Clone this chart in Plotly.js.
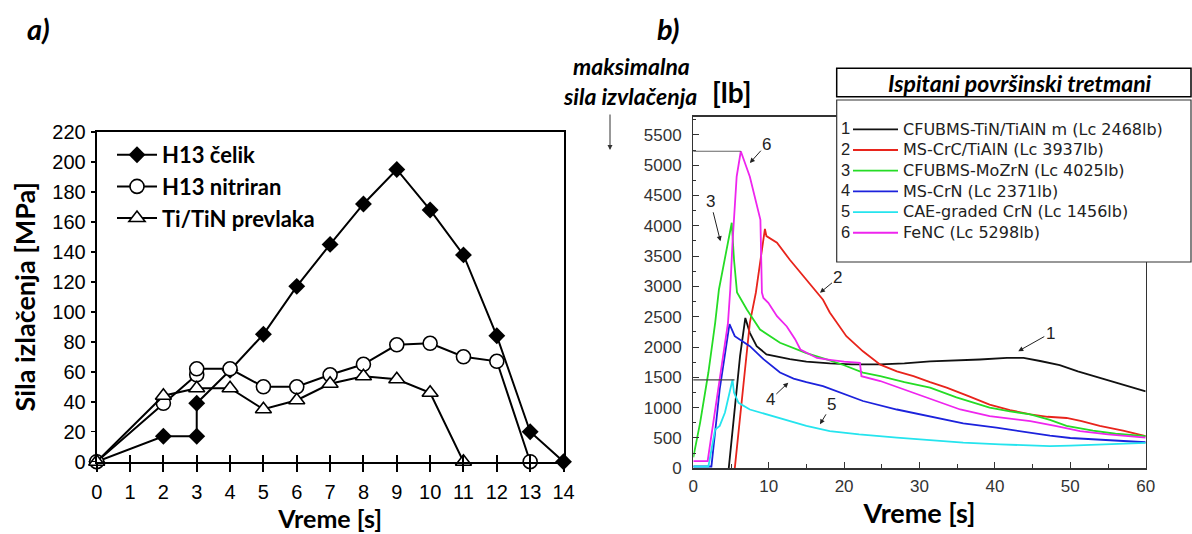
<!DOCTYPE html>
<html><head><meta charset="utf-8">
<script src="https://cdn.plot.ly/plotly-3.0.1.min.js"></script>
<style>html,body{margin:0;padding:0;background:#fff}#chart{width:1192px;height:534px}</style>
</head><body><div id="chart"></div>
<script>
// ---------- a) data ----------
const seriesA = ['H13 čelik', 'H13 nitriran', 'Ti/TiN prevlaka'];
const tCelik = [0, 2, 3, 3, 4, 5, 6, 7, 8, 9, 10, 11, 12, 13, 14];
const celik  = [0, 17, 17, 39, 61, 85, 117, 145, 172, 195, 168, 138, 84, 20, 0];
const tNitr  = [0, 2, 3, 3, 4, 5, 6, 7, 8, 9, 10, 11, 12, 13];
const nitr   = [0, 39, 58, 62, 62, 50, 50, 58, 65, 78, 79, 70, 67, 0];
const tTin   = [0, 2, 3, 4, 5, 6, 7, 8, 9, 10, 11];
const tin    = [0, 44, 49, 49, 35, 41, 52, 57, 55, 46, 0];

// ---------- b) data ----------
const seriesB = ['CFUBMS-TiN/TiAlN m (Lc 2468lb)', 'MS-CrC/TiAlN (Lc 3937lb)', 'CFUBMS-MoZrN (Lc 4025lb)',
                 'MS-CrN (Lc 2371lb)', 'CAE-graded CrN (Lc 1456lb)', 'FeNC (Lc 5298lb)'];
const seriesNo = ['1', '2', '3', '4', '5', '6'];
const t1 = [4.7, 5.3, 6.2, 6.9, 7.5, 8.4, 9.7, 12.8, 15, 18.1, 21, 24.8, 28, 31.4, 35, 38, 41.6, 43.8, 46, 48.6, 51, 53.9, 57, 60];
const v1 = [0, 750, 1850, 2480, 2235, 2015, 1880, 1800, 1760, 1730, 1715, 1715, 1730, 1765, 1780, 1795, 1820, 1820, 1770, 1700, 1600, 1495, 1390, 1270];
const t2 = [5.5, 6.6, 7.5, 8.3, 9.07, 9.5, 9.7, 11.1, 12.8, 15, 17.2, 18.1, 20.3, 22.5, 24.8, 27, 29.2, 31.4, 33.6, 36.5, 39.3, 42, 44.7, 47, 49.5, 51.5, 53.9, 57, 60];
const v2 = [0, 1300, 2400, 2900, 3600, 3950, 3830, 3720, 3440, 3110, 2780, 2570, 2180, 1930, 1710, 1600, 1520, 1420, 1330, 1190, 1050, 960, 890, 850, 830, 780, 700, 620, 530];
const t3 = [0, 0.9, 2.0, 2.9, 3.4, 4.4, 5.1, 5.4, 5.8, 7.1, 8.85, 11.5, 15, 18.1, 20, 22.5, 24.8, 28, 31.4, 34.9, 39.3, 42, 44.7, 47.3, 49.5, 53, 56, 60];
const v3 = [180, 750, 1580, 2400, 2950, 3600, 4050, 3440, 2900, 2620, 2290, 2070, 1900, 1780, 1700, 1580, 1520, 1420, 1330, 1170, 1000, 940, 890, 800, 700, 620, 570, 530];
const t4 = [0, 2.4, 3.5, 4.2, 4.8, 5.5, 6.2, 7.5, 9.3, 11.5, 13.3, 15, 17.2, 19.5, 22.5, 27, 31.4, 35.8, 40.2, 44.7, 47.3, 50, 53.9, 57, 60];
const v4 = [30, 30, 1300, 1850, 2380, 2180, 2125, 2015, 1800, 1580, 1480, 1420, 1356, 1250, 1110, 970, 860, 740, 670, 580, 540, 500, 470, 445, 430];
const t5 = [0, 2.0, 2.9, 3.5, 4.2, 4.6, 5.0, 5.2, 5.4, 6.0, 7.5, 10.6, 15, 18.1, 22, 27, 31, 35.8, 40.7, 44.7, 47.3, 50, 53.9, 57, 60];
const v5 = [30, 30, 640, 700, 920, 1140, 1360, 1460, 1250, 1080, 970, 860, 700, 615, 560, 505, 465, 425, 395, 370, 365, 375, 395, 410, 420];
const t6 = [0, 1.9, 3.3, 4.6, 4.9, 5.2, 5.75, 6.3, 7.5, 8.2, 8.6, 8.9, 9.1, 9.3, 9.95, 11.1, 12.4, 13.5, 14.2, 16.4, 18.1, 20, 22.1, 22.3, 24.8, 29.2, 35.4, 39.3, 44.7, 48, 51.3, 55, 60];
const v6 = [120, 120, 1300, 2400, 2950, 3720, 4810, 5230, 4810, 4430, 4240, 4100, 2900, 2810, 2730, 2510, 2340, 2130, 1960, 1820, 1790, 1760, 1740, 1520, 1440, 1250, 970, 860, 780, 700, 615, 560, 505];
const colorsB = ['#111111', '#e8241c', '#25dc25', '#1c22dc', '#25e4ee', '#ee25ee'];

const W = 1192, H = 534;
const px = x => x / W;
const py = y => 1 - y / H;
const LATO = 'Lato, "Open Sans", sans-serif';
const ARIAL = '"Liberation Sans", Arial, sans-serif';
const DEJAVU = '"DejaVu Sans", "Liberation Sans", sans-serif';

const traces = [];
// a) traces
traces.push({x: tCelik, y: celik, name: seriesA[0], mode: 'lines+markers', xaxis: 'x', yaxis: 'y', legend: 'legend',
  cliponaxis: false, line: {color: '#000', width: 2}, marker: {symbol: 'diamond', size: 13, color: '#000'}});
traces.push({x: tNitr, y: nitr, name: seriesA[1], mode: 'lines+markers', xaxis: 'x', yaxis: 'y', legend: 'legend',
  cliponaxis: false, line: {color: '#000', width: 2}, marker: {symbol: 'circle', size: 14, color: '#fff', line: {color: '#000', width: 1.6}}});
traces.push({x: tTin, y: tin, name: seriesA[2], mode: 'lines+markers', xaxis: 'x', yaxis: 'y', legend: 'legend',
  cliponaxis: false, line: {color: '#000', width: 2}, marker: {symbol: 'triangle-up', size: 14, color: '#fff', line: {color: '#000', width: 1.6}}});
traces.push({x: [], y: [], xaxis: 'x3', yaxis: 'y', showlegend: false, hoverinfo: 'skip'});

// b) traces
const tB = [t1, t2, t3, t4, t5, t6];
const vB = [v1, v2, v3, v4, v5, v6];
for (let i = 0; i < 6; i++) {
  traces.push({x: tB[i], y: vB[i], name: '<span style="font-size:16px">' + seriesB[i] + '</span>', mode: 'lines',
    xaxis: 'x2', yaxis: 'y2', legend: 'legend2', line: {color: colorsB[i], width: 1.8}});
}

// peaks for guide lines
const iMax6 = v6.indexOf(Math.max(...v6));
const iMax5 = v5.indexOf(Math.max(...v5));

function pTxt(text, x, y, font) {
  return {text: text, x: px(x), y: py(y), xref: 'paper', yref: 'paper', xanchor: 'center', yanchor: 'middle', showarrow: false, font: font};
}
const annotations = [
  pTxt('a)', 38, 28, {family: LATO, size: 29, weight: 'bold', style: 'italic', color: '#000'}),
  pTxt('b)', 668, 28, {family: LATO, size: 29, weight: 'bold', style: 'italic', color: '#000'}),
  pTxt('maksimalna', 631, 66, {family: LATO, size: 23, weight: 'bold', style: 'italic', color: '#000'}),
  pTxt('sila izvlačenja', 630, 96, {family: LATO, size: 23, weight: 'bold', style: 'italic', color: '#000'}),
  pTxt('[lb]', 731, 92, {family: LATO, size: 28, weight: 'bold', color: '#000'}),
  {text: '', x: px(610), y: py(150), xref: 'paper', yref: 'paper', showarrow: true, ax: 0, ay: -37, arrowhead: 2, arrowsize: 1, arrowwidth: 1, arrowcolor: '#333'},
  pTxt('Ispitani površinski tretmani', 1020, 82.5, {family: LATO, size: 23, weight: 'bold', style: 'italic', color: '#000'})
];
for (let i = 0; i < 6; i++) {
  annotations.push(pTxt(seriesNo[i], 845, 128.3 + i * 20.7, {family: ARIAL, size: 16.5, color: '#222'}));
}
const curveLabels = [
  {n: '6', x: 7.5, y: 5036, ax: 17, ay: -19},
  {n: '3', x: 3.6, y: 3745, ax: -10, ay: -40},
  {n: '2', x: 16.8, y: 2894, ax: 18, ay: -15},
  {n: '1', x: 43.1, y: 1932, ax: 32, ay: -18},
  {n: '4', x: 12.6, y: 1412, ax: -18, ay: 17},
  {n: '5', x: 16.8, y: 725, ax: 12, ay: -20}
];
curveLabels.forEach(c => annotations.push({text: c.n, x: c.x, y: c.y, xref: 'x2', yref: 'y2', ax: c.ax, ay: c.ay,
  showarrow: true, arrowhead: 2, arrowsize: 1, arrowwidth: 1, arrowcolor: '#222', standoff: 0,
  font: {family: ARIAL, size: 17, color: '#222'}}));

const shapes = [
  {type: 'rect', xref: 'paper', yref: 'paper', x0: px(836.7), x1: px(1191), y0: py(262), y1: py(100), fillcolor: '#fff', line: {color: '#333', width: 1.2}, layer: 'above'},
  {type: 'rect', xref: 'paper', yref: 'paper', x0: px(836.7), x1: px(1191), y0: py(96.7), y1: py(68.3), fillcolor: '#fff', line: {color: '#000', width: 1.5}, layer: 'above'},
  {type: 'line', xref: 'x2', yref: 'y2', xsizemode: 'pixel', xanchor: t6[iMax6], x0: -136, x1: 0, y0: v6[iMax6], y1: v6[iMax6], line: {color: '#666', width: 1.2}},
  {type: 'line', xref: 'x2', yref: 'y2', xsizemode: 'pixel', xanchor: t5[iMax5], x0: -90, x1: 2, y0: v5[iMax5], y1: v5[iMax5], line: {color: '#444', width: 1.2}}
];

const layout = {
  width: W, height: H, margin: {l: 0, r: 0, t: 0, b: 0}, paper_bgcolor: '#fff', plot_bgcolor: 'rgba(0,0,0,0)',
  showlegend: true,
  xaxis: {domain: [px(96.7), px(563.5)], anchor: 'y', range: [0, 14], tick0: 0, dtick: 1, ticks: 'outside', ticklen: 8, tickwidth: 2, tickcolor: '#000',
    showline: true, linecolor: '#000', linewidth: 2, mirror: true, showgrid: false, zeroline: false, automargin: false, ticklabelstandoff: 3,
    tickfont: {family: ARIAL, size: 20, color: '#000'},
    title: {text: 'Vreme [s]', standoff: 9, font: {family: LATO, size: 25, weight: 'bold', color: '#000'}}},
  xaxis3: {overlaying: 'x', anchor: 'y', range: [0, 14], tick0: 0, dtick: 1, ticks: 'inside', ticklen: 7, tickwidth: 2, tickcolor: '#000',
    showticklabels: false, showline: false, showgrid: false, zeroline: false},
  yaxis: {domain: [py(461.7), py(132)], anchor: 'x', range: [0, 220], tick0: 0, dtick: 20, ticks: 'outside', ticklen: 4, tickwidth: 1.5, tickcolor: '#000',
    showline: true, linecolor: '#000', linewidth: 2, mirror: true, showgrid: false, zeroline: false, automargin: false, ticklabelstandoff: 1,
    tickfont: {family: ARIAL, size: 20, color: '#000'},
    title: {text: 'Sila izlačenja [MPa]', standoff: 9, font: {family: LATO, size: 27, weight: 'bold', color: '#000'}}},
  xaxis2: {domain: [px(693.3), px(1145.7)], anchor: 'y2', range: [0, 60], tick0: 0, dtick: 10, ticks: 'inside', ticklen: 6, tickwidth: 1, tickcolor: '#333',
    minor: {dtick: 5, ticks: 'inside', ticklen: 4, tickcolor: '#333', showgrid: false},
    showline: true, linecolor: '#333', linewidth: 1.3, mirror: true, showgrid: false, zeroline: false, automargin: false, ticklabelstandoff: 2,
    tickfont: {family: ARIAL, size: 17, color: '#333'},
    title: {text: 'Vreme [s]', standoff: 0, font: {family: LATO, size: 27, weight: 'bold', color: '#000'}}},
  yaxis2: {domain: [py(468.3), py(116.7)], anchor: 'x2', range: [0, 5800], tick0: 0, dtick: 500, ticks: 'inside', ticklen: 6, tickwidth: 1, tickcolor: '#333',
    minor: {dtick: 250, ticks: 'inside', ticklen: 3, tickcolor: '#333', showgrid: false},
    showline: true, linecolor: '#333', linewidth: 1.3, mirror: true, showgrid: false, zeroline: false, automargin: false, ticklabelstandoff: 7,
    tickfont: {family: ARIAL, size: 17, color: '#333'}},
  legend: {x: px(112), y: py(134), xanchor: 'left', yanchor: 'top', bgcolor: 'rgba(0,0,0,0)', borderwidth: 0, itemwidth: 40,
    font: {family: LATO, size: 22, weight: 'bold', color: '#000'}, tracegroupgap: 0},
  legend2: {x: px(848), y: py(114), xanchor: 'left', yanchor: 'top', bgcolor: 'rgba(0,0,0,0)', borderwidth: 0, itemwidth: 45,
    font: {family: DEJAVU, size: 13.6, color: '#222'}, tracegroupgap: 0},
  annotations: annotations,
  shapes: shapes
};

Plotly.newPlot('chart', traces, layout, {staticPlot: true, displayModeBar: false});
</script></body></html>
